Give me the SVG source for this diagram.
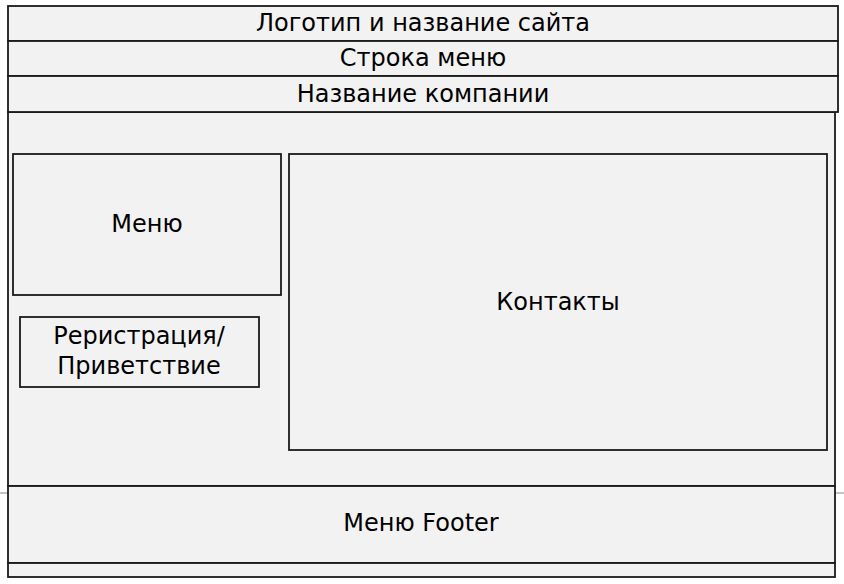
<svg xmlns="http://www.w3.org/2000/svg" width="844" height="584" viewBox="0 0 844 584">
<style>
.box{fill:#f2f2f2;stroke:#1a1a1a;stroke-width:1.8}
.t{font-family:"DejaVu Sans","Noto Sans",sans-serif;font-size:24px;fill:#000;text-anchor:middle}
</style>
<rect width="844" height="584" fill="#ffffff"/>
<line x1="0" y1="493" x2="844" y2="493" stroke="#c4c4c4" stroke-width="2"/>
<g id="body"><rect class="box" x="8" y="112" width="827" height="374"/></g>
<g id="footer"><rect class="box" x="8" y="486" width="827" height="77"/><text class="t" x="421" y="531">Меню Footer</text></g>
<g id="footer-strip"><rect class="box" x="8" y="563" width="827" height="14"/></g>
<g id="logo"><rect class="box" x="8" y="6" width="830" height="35"/><text class="t" x="423" y="31">Логотип и название сайта</text></g>
<g id="menubar"><rect class="box" x="8" y="41" width="830" height="35"/><text class="t" x="423" y="66">Строка меню</text></g>
<g id="company"><rect class="box" x="8" y="76" width="830" height="36"/><text class="t" x="423" y="101.5">Название компании</text></g>
<g id="menu"><rect class="box" x="13" y="154" width="268" height="141"/><text class="t" x="147" y="232">Меню</text></g>
<g id="registration"><rect class="box" x="20" y="317" width="239" height="70"/><text class="t" x="139" y="344">Реристрация/</text><text class="t" x="139" y="374">Приветствие</text></g>
<g id="contacts"><rect class="box" x="289" y="154" width="538" height="296"/><text class="t" x="558" y="309.5">Контакты</text></g>
<g id="connectors"></g>
</svg>
